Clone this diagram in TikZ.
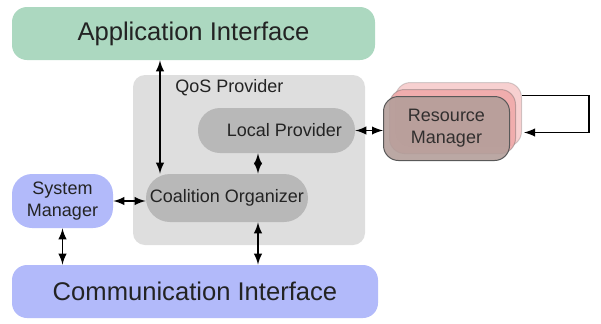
\documentclass[tikz,border=0pt]{standalone}
\usepackage{fontspec}
\setmainfont{Liberation Sans}
\usetikzlibrary{calc}

\definecolor{appgreen}{RGB}{172,216,192}
\definecolor{qosgray}{RGB}{222,222,222}
\definecolor{inngray}{RGB}{184,184,184}
\definecolor{sysblue}{RGB}{178,186,250}
\definecolor{respink}{RGB}{240,170,170}
\definecolor{resbrown}{RGB}{180,158,154}
\definecolor{txtgray}{RGB}{35,35,35}

\tikzset{
  block/.style={rounded corners=7.5pt, inner sep=0pt, align=center, text=txtgray},
  bigblock/.style={block, font=\fontsize{12.8}{14}\selectfont},
  smallblock/.style={block, font=\fontsize{9}{11}\selectfont},
  resblock/.style={smallblock, draw=black!65, line width=0.5pt,
    minimum width=63pt, minimum height=32pt},
  arr/.style={<->, >=latex, line width=0.9pt},
}

\begin{document}
\begin{tikzpicture}[x=0.5pt, y=-0.5pt]
  \useasboundingbox (0,0) rectangle (601,323);

  %%% blocks
  \node[bigblock, fill=appgreen, minimum width=181.5pt, minimum height=26.5pt]
    (app) at (193.5,33.5) {Application Interface};
  \node[smallblock, fill=qosgray, rounded corners=6pt, minimum width=116pt, minimum height=85pt]
    (qos) at (249,160) {};
  \node[smallblock, anchor=west] (qoslabel) at (175,88) {QoS Provider};
  \node[smallblock, fill=inngray, rounded corners=11pt, minimum width=78.5pt, minimum height=22.5pt]
    (local) at (276.5,130.5) {\hspace*{8pt}Local Provider};
  \node[smallblock, fill=inngray, rounded corners=12pt, minimum width=81pt, minimum height=24pt]
    (coal) at (227,198) {Coalition Organizer};
  \node[smallblock, fill=sysblue, rounded corners=10pt, minimum width=50.5pt, minimum height=27pt]
    (sys) at (62.5,201) {System\\Manager};
  \node[bigblock, fill=sysblue, minimum width=183pt, minimum height=26.5pt]
    (comm) at (195,291.5) {Communication Interface};

  %%% resource manager (stacked)
  \node[resblock, fill=respink!55, draw opacity=0.25] (res3) at (458.5,114.5) {};
  \node[resblock, fill=respink, fill opacity=0.9, draw opacity=0.35] (res2) at (452.5,121.5) {};
  \node[resblock, fill=resbrown, fill opacity=0.9] (res) at (446.5,128.5) {Resource\\Manager};

  %%% connectors
  \coordinate (cA) at (160,0);
  \coordinate (cB) at (258,0);
  \draw[arr] (app.south -| cA) -- (coal.north -| cA);
  \draw[arr] (local.south -| cB) -- (coal.north -| cB);
  \draw[arr] (coal.south -| cB) -- (comm.north -| cB);
  \draw[arr] (sys.east) -- (sys.east -| coal.west);
  \draw[arr] (sys.south) -- (comm.north -| sys.south);
  \draw[arr] (local.east) -- (local.east -| res.west);
  \draw[->, >=latex, line width=0.9pt] ($(res3.east)+(0,-19)$) -- ++(67,0) -- ++(0,37)
    -- ($(res3.east)+(2,18)$);
\end{tikzpicture}
\end{document}
